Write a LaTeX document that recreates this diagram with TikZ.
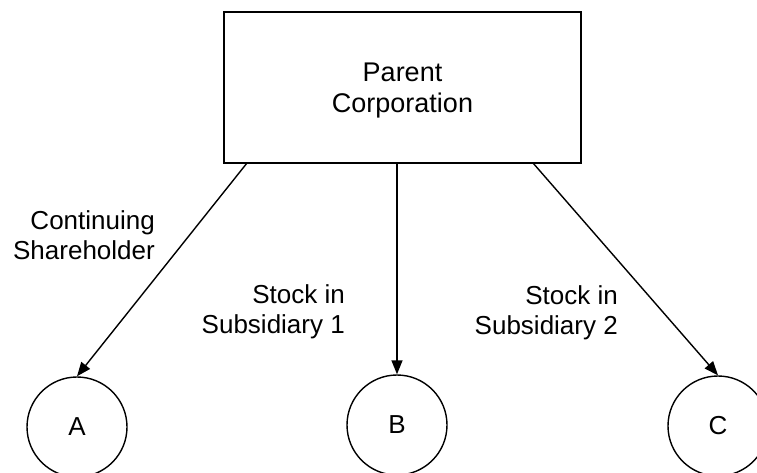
\documentclass[tikz,border=0pt]{standalone}
\usepackage{fontspec}
\setmainfont{Liberation Sans}
\usetikzlibrary{arrows.meta,positioning,calc}
\tikzset{
  corp/.style={draw, line width=1.4pt, minimum width=357pt, minimum height=151pt,
               align=center, inner sep=0pt, font=\fontsize{27}{31}\selectfont},
  holder/.style={draw, circle, line width=1.4pt, minimum size=100pt, inner sep=0pt},
  flow/.style={-{Triangle[length=14pt,width=11pt]}, line width=1.4pt},
  lbl/.style={align=right, anchor=east, inner sep=0pt},
}
\begin{document}
\begin{tikzpicture}[x=1pt, y=-1pt, font=\fontsize{26}{30}\selectfont]
    \useasboundingbox (0,0) rectangle (757,473);
    \node[corp] (parent) at (402.5,87.5) {\\[-6pt]Parent\\Corporation};
    \node[holder] (a) at (77,427) {A};
    \node[holder] (b) at (397,425) {B};
    \node[holder] (c) at (718,426) {C};
    \coordinate (outA) at (247,163);
    \coordinate (outB) at (397,163);
    \coordinate (outC) at (533,163);
    \draw[flow] (outA) -- (a.north);
    \draw[flow] (outB) -- (b.north);
    \draw[flow] (outC) -- (c.north);
    \node[lbl] (contlbl) at (155,235) {Continuing\\Shareholder};
    \node[lbl] (sub1lbl) at (345,312) {Stock in\\Subsidiary 1};
    \node[lbl] (sub2lbl) at (618,313) {Stock in\\Subsidiary 2};
  \end{tikzpicture}
\end{document}
